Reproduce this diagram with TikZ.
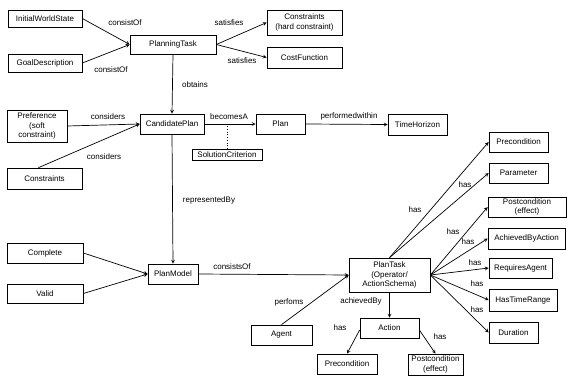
\documentclass[tikz,border=0pt]{standalone}
\usepackage{fontspec}
\setmainfont{Liberation Sans}
\usepackage{tikz}
\usetikzlibrary{calc, shapes, arrows}
\usetikzlibrary{positioning}
\tikzstyle{entity} = [rectangle, draw, align=center, minimum height=20pt, inner sep=1pt, font=\fontsize{8}{9.5}\selectfont]
\tikzstyle{rel} = [inner sep=0pt, font=\fontsize{8}{9.5}\selectfont]

\begin{document}
\begin{tikzpicture}[x=1pt, y=-1pt, >=stealth, line width=0.7pt]
        \useasboundingbox (0,0) rectangle (567,383);

        \node[entity, minimum width=74pt, minimum height=17pt] at (45, 18.5) (InitialWorldState) {InitialWorldState};
        \node[entity, minimum width=74pt, minimum height=18pt] at (45, 63) (GoalDescription) {GoalDescription};
        \node[entity, minimum width=86pt, minimum height=19pt] at (173, 44.5) (PlanningTask) {PlanningTask};
        \node[entity, minimum width=75pt, minimum height=25pt] at (304.5, 22.5) (Constraints_hard) {Constraints\\(hard constraint)};
        \node[entity, minimum width=75pt, minimum height=21pt] at (304.5, 57.5) (CostFunction) {CostFunction};

        \node[entity, minimum width=60pt, minimum height=32pt] at (37, 126) (Preference) {Preference\\(soft\\constraint)};
        \node[entity, minimum width=75pt, minimum height=21pt] at (44.5, 178.5) (Constraints_soft) {Constraints};
        \node[entity, minimum width=64pt] at (172, 124) (CandidatePlan) {CandidatePlan};
        \node[entity, minimum width=49pt] at (280.5, 124) (Plan) {Plan};
        \node[entity, minimum width=70pt, minimum height=11pt, inner sep=0pt] at (227, 154.5) (SolutionCriterion) {SolutionCriterion};
        \node[entity, minimum width=59pt, minimum height=21pt] at (417.5, 124.5) (TimeHorizon) {TimeHorizon};

        \node[entity, minimum width=76pt] at (45, 253) (Complete) {Complete};
        \node[entity, minimum width=76pt, minimum height=19pt] at (45, 293.5) (Valid) {Valid};
        \node[entity, minimum width=50pt] at (173, 274) (PlanModel) {PlanModel};
        \node[entity, minimum width=61pt] at (281.5, 335) (Agent) {Agent};

        \node[entity, minimum width=81pt, minimum height=34pt] at (389.5, 275) (PlanTask) {PlanTask\\(Operator/\\ActionSchema)};
        \node[entity, minimum width=59pt] at (389.5, 328) (Action) {Action};
        \node[entity, minimum width=60pt] at (347, 364) (Precondition_action) {Precondition};
        \node[entity, minimum width=55pt, minimum height=21pt] at (435.5, 364.5) (Postcondition_action) {Postcondition\\(effect)};

        \node[entity, minimum width=59pt] at (518.5, 142) (Precondition) {Precondition};
        \node[entity, minimum width=59pt] at (518.5, 173) (Parameter) {Parameter};
        \node[entity, minimum width=78pt] at (527, 207) (Postcondition) {Postcondition\\(effect)};
        \node[entity, minimum width=77pt, minimum height=21pt] at (526.5, 238.5) (AchievedByAction) {AchievedByAction};
        \node[entity, minimum width=63pt] at (520.5, 268) (RequiresAgent) {RequiresAgent};
        \node[entity, minimum width=68pt, minimum height=22pt] at (523, 300) (HasTimeRange) {HasTimeRange};
        \node[entity, minimum width=49pt, minimum height=21pt] at (513.5, 332.5) (Duration) {Duration};

        \node[rel] at (125, 23) (l_consistOf_a) {consistOf};
        \node[rel] at (111, 70) (l_consistOf_b) {consistOf};
        \node[rel] at (229, 23) (l_satisfies_a) {satisfies};
        \node[rel] at (242, 61) (l_satisfies_b) {satisfies};
        \node[rel] at (195, 85) (l_obtains) {obtains};
        \node[rel] at (108, 117) (l_considers_a) {considers};
        \node[rel] at (104, 157) (l_considers_b) {considers};
        \node[rel] at (229, 117) (l_becomesA) {becomesA};
        \node[rel] at (349, 116) (l_performedwithin) {performedwithin};
        \node[rel] at (209, 200) (l_representedBy) {representedBy};
        \node[rel] at (232, 267) (l_consistsOf) {consistsOf};
        \node[rel] at (289, 302) (l_perfoms) {perfoms};
        \node[rel] at (361, 301) (l_achievedBy) {achievedBy};
        \node[rel] at (340, 328) (l_has_pre) {has};
        \node[rel] at (440, 337) (l_has_post) {has};
        \node[rel] at (415, 210) (l_has_a) {has};
        \node[rel] at (465, 185) (l_has_b) {has};
        \node[rel] at (453, 232) (l_has_c) {has};
        \node[rel] at (468, 242) (l_has_d) {has};
        \node[rel] at (475, 263) (l_has_e) {has};
        \node[rel] at (477, 284) (l_has_f) {has};
        \node[rel] at (477, 310) (l_has_g) {has};

        \draw[->] (InitialWorldState.east) -- (PlanningTask.west);
        \draw[->] (GoalDescription.east) -- (PlanningTask.west);
        \draw[->] (PlanningTask.east) -- (Constraints_hard.west);
        \draw[->] (PlanningTask.east) -- (CostFunction.west);
        \draw[->] (PlanningTask.south) -- (CandidatePlan.north);
        \draw[->] (Preference.east) -- (CandidatePlan.west);
        \draw[->] ($(Constraints_soft.north west)!0.42!(Constraints_soft.north east)$) -- (CandidatePlan.west);
        \draw[->] (CandidatePlan.east) -- (Plan.west);
        \draw[dotted] (SolutionCriterion.north) -- (SolutionCriterion.north |- Plan.west);
        \draw[->] (Plan.east) -- (TimeHorizon.west);
        \draw[->] (CandidatePlan.south) -- (PlanModel.north);
        \draw[->] (Complete.east) -- (PlanModel.west);
        \draw[->] (Valid.east) -- (PlanModel.west);
        \draw[->] (PlanModel.east) -- (PlanTask.west);
        \draw[->] (Agent.north) -- (PlanTask.west);
        \draw[->] (PlanTask.south) -- (Action.north);
        \draw[->] ($(Action.west)+(0,2)$) -- (Precondition_action.north);
        \draw[->] ($(Action.east)+(0,2)$) -- (Postcondition_action.north);
        \draw[->] (PlanTask.north) -- (Precondition.west);
        \draw[->] (PlanTask.north) -- (Parameter.west);
        \draw[->] (PlanTask.east) -- (Postcondition.west);
        \draw[->] (PlanTask.east) -- (AchievedByAction.west);
        \draw[->] (PlanTask.east) -- (RequiresAgent.west);
        \draw[->] (PlanTask.east) -- (HasTimeRange.west);
        \draw[->] (PlanTask.east) -- (Duration.west);
    \end{tikzpicture}
\end{document}
